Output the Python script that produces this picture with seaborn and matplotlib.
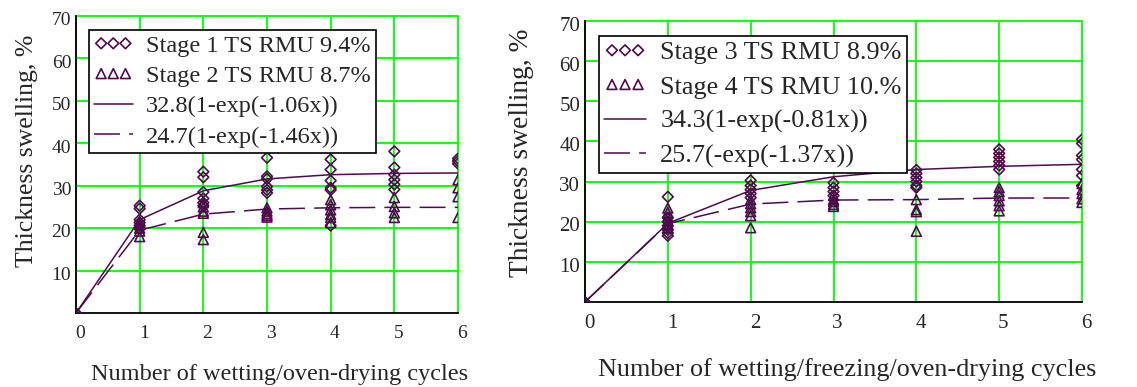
import pandas as pd
import matplotlib
matplotlib.use("Agg")
import matplotlib.pyplot as plt
import matplotlib.transforms as mtransforms
import seaborn as sns


# scatter data (x = cycle number, y = thickness swelling %)
s1_x = [0, 1, 1, 1, 1, 1, 1, 2, 2, 2, 2, 2, 2, 3, 3, 3, 3, 3, 3,
        4, 4, 4, 4, 4, 4, 5, 5, 5, 5, 5, 5, 6, 6, 6]
s1_y = [0, 25.3, 24.6, 22.0, 21.3, 20.6, 20.0, 33.3, 32.0, 28.5, 27.0, 26.0, 25.3,
        36.6, 32.2, 31.6, 29.8, 29.0, 28.3, 36.2, 33.8, 31.2, 29.5, 29.0, 20.6,
        38.1, 34.3, 32.6, 31.4, 30.3, 29.1, 36.4, 35.8, 35.2]

s2_x = [0, 1, 1, 1, 1, 1, 2, 2, 2, 2, 2, 2, 3, 3, 3, 3, 3,
        4, 4, 4, 4, 4, 4, 5, 5, 5, 5, 6, 6, 6, 6]
s2_y = [0, 21.5, 20.8, 20.0, 19.3, 18.0, 26.0, 25.0, 24.0, 23.5, 19.0, 17.3,
        24.8, 24.0, 23.4, 23.0, 22.6, 26.7, 25.5, 24.3, 23.2, 22.5, 21.3,
        27.2, 25.1, 23.6, 22.5, 31.4, 29.5, 27.4, 22.5]

s3_x = [0, 1, 1, 1, 1, 1, 1, 1, 2, 2, 2, 2, 2, 3, 3, 3, 3,
        4, 4, 4, 4, 4, 4, 5, 5, 5, 5, 5, 5, 6, 6, 6, 6, 6, 6, 6]
s3_y = [0, 26.2, 21.0, 20.0, 19.0, 18.0, 17.2, 16.5, 30.3, 29.0, 28.0, 27.0, 26.0,
        29.7, 28.5, 27.5, 26.5, 32.9, 32.0, 31.0, 30.0, 29.0, 28.5,
        38.0, 37.0, 36.0, 35.0, 34.0, 33.0, 40.5, 39.5, 36.5, 35.5, 33.0, 31.5, 29.0]

s4_x = [0, 1, 1, 1, 1, 1, 1, 2, 2, 2, 2, 2, 2, 3, 3, 3, 3, 3,
        4, 4, 4, 4, 5, 5, 5, 5, 5, 5, 6, 6, 6, 6, 6]
s4_y = [0, 23.4, 22.3, 21.0, 20.0, 19.3, 18.5, 25.5, 24.5, 23.5, 22.5, 21.5, 18.5,
        26.5, 25.5, 25.0, 24.3, 23.8, 25.5, 23.0, 22.5, 17.6,
        28.5, 27.5, 26.5, 25.2, 24.0, 22.7, 29.5, 28.0, 27.0, 25.7, 24.8]

# fitted curves, evaluated at whole cycles as plotted in the chart
fit_x = [0, 1, 2, 3, 4, 5, 6]
fit1_y = [0, 22.0, 28.8, 31.6, 32.6, 32.9, 33.0]
fit2_y = [0, 19.5, 23.3, 24.5, 24.8, 24.9, 24.9]
fit3_y = [0, 19.6, 27.8, 31.2, 33.0, 33.8, 34.3]
fit4_y = [0, 19.5, 24.4, 25.4, 25.5, 25.9, 25.9]

labels_left = ["Stage 1 TS RMU 9.4%", "Stage 2 TS RMU 8.7%",
               "32.8(1-exp(-1.06x))", "24.7(1-exp(-1.46x))"]
labels_right = ["Stage 3 TS RMU 8.9%", "Stage 4 TS RMU 10.%",
                "34.3(1-exp(-0.81x))", "25.7(-exp(-1.37x))"]

xlabel_left = "Number of wetting/oven-drying cycles"
xlabel_right = "Number of wetting/freezing/oven-drying cycles"
ylabel = "Thickness swelling, %"


sns.set_style("white")
plt.rcParams["font.family"] = ["Liberation Serif", "DejaVu Serif"]

purple = "#4c0c4c"
green = "#00ff00"

fig = plt.figure(figsize=(11.37, 3.87), dpi=100)
ax1 = fig.add_axes([76 / 1137, 1 - 313 / 387, 382 / 1137, 297 / 387])
ax2 = fig.add_axes([585 / 1137, 1 - 302 / 387, 497 / 1137, 281 / 387])


def draw_panel(ax, dx, dy, tx, ty, fa, fb, labels, xlabel, xl_pos, yl_pos,
               leg_pos, fs_label, fs_leg, fs_tick, spacing):
    df_d = pd.DataFrame({"x": dx, "y": dy})
    df_t = pd.DataFrame({"x": tx, "y": ty})
    df_fit = pd.DataFrame({"x": fit_x, "a": fa, "b": fb})

    sns.scatterplot(data=df_d, x="x", y="y", ax=ax, marker="D", s=30,
                    facecolors="none", edgecolors=purple, linewidths=1.2,
                    label=labels[0], zorder=4)
    sns.scatterplot(data=df_t, x="x", y="y", ax=ax, marker="^", s=50,
                    facecolors="none", edgecolors=purple, linewidths=1.2,
                    label=labels[1], zorder=4)
    sns.lineplot(data=df_fit, x="x", y="a", ax=ax, color=purple, lw=1.1,
                 label=labels[2], zorder=3)
    sns.lineplot(data=df_fit, x="x", y="b", ax=ax, color=purple, lw=1.1,
                 dashes=False, label=labels[3], zorder=3)
    ax.lines[-1].set_dashes((17, 6))

    ax.set_xlim(0, 6)
    ax.set_ylim(0, 70)
    ax.set_xticks(range(0, 7))
    ax.set_yticks(range(10, 71, 10))
    ax.grid(True, color=green, lw=1.3)
    ax.set_axisbelow(True)
    for gl in ax.get_xgridlines() + ax.get_ygridlines():
        gl.set_clip_on(False)

    for side in ["top", "right"]:
        ax.spines[side].set_visible(False)
    for side in ["left", "bottom"]:
        ax.spines[side].set_color("black")
        ax.spines[side].set_linewidth(1.3)

    ax.tick_params(axis="both", direction="inout", length=7, width=1.1,
                   color="black", labelsize=fs_tick)
    ax.tick_params(axis="y", pad=0)
    ax.tick_params(axis="x", pad=5)

    shift_x = mtransforms.ScaledTranslation(3 / 72, 0, fig.dpi_scale_trans)
    for lab in ax.get_xticklabels():
        lab.set_transform(lab.get_transform() + shift_x)
    shift_y = mtransforms.ScaledTranslation(0, -2 / 72, fig.dpi_scale_trans)
    for lab in ax.get_yticklabels():
        lab.set_transform(lab.get_transform() + shift_y)

    ax.set_xlabel(xlabel, fontsize=fs_label)
    ax.set_ylabel(ylabel, fontsize=fs_label + 1)
    ax.xaxis.set_label_coords(*xl_pos)
    ax.yaxis.set_label_coords(*yl_pos)

    leg = ax.legend(loc="upper left", bbox_to_anchor=leg_pos, borderaxespad=0,
                    fontsize=fs_leg, frameon=True, fancybox=False, framealpha=1,
                    edgecolor="black", scatterpoints=3, scatteryoffsets=[0.5],
                    handlelength=1.6, handletextpad=0.55, borderpad=0.2,
                    labelspacing=spacing)
    leg.get_frame().set_linewidth(1.2)
    leg.set_zorder(10)


draw_panel(ax1, s1_x, s1_y, s2_x, s2_y, fit1_y, fit2_y, labels_left,
           xlabel_left, (0.534, -0.172), (-0.1, 0.545), (0.034, 0.953),
           17.5, 17.5, 14, 0.34)
draw_panel(ax2, s3_x, s3_y, s4_x, s4_y, fit3_y, fit4_y, labels_right,
           xlabel_right, (0.527, -0.2), (-0.103, 0.53), (0.028, 0.947),
           18.8, 18.8, 15, 0.42)

plt.savefig("out.png", dpi=100)
